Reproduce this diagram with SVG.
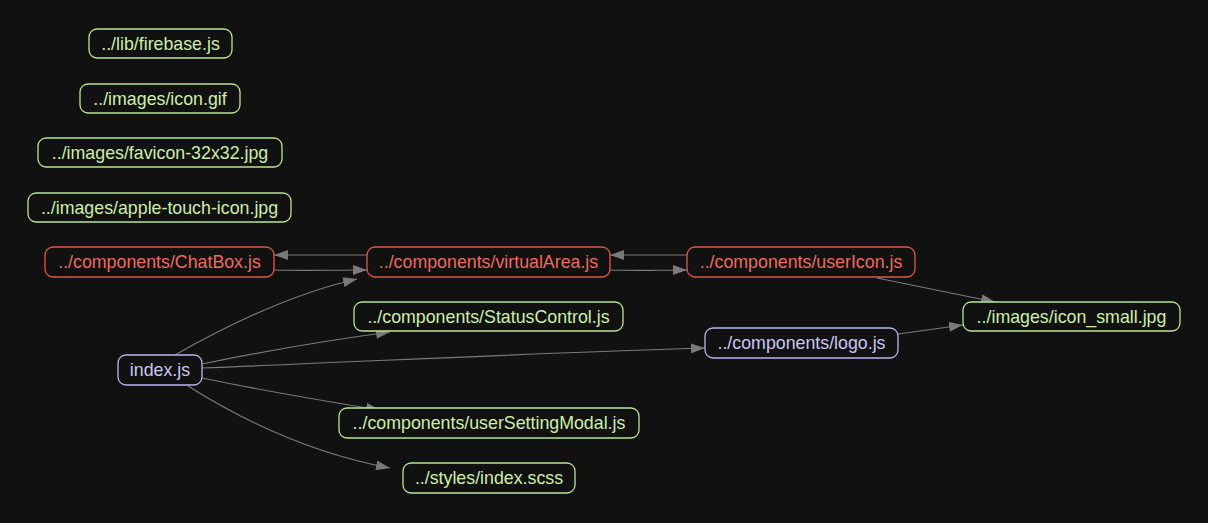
<svg xmlns="http://www.w3.org/2000/svg" width="1208" height="523" viewBox="0 0 1208 523">
<defs>
<marker id="a" markerWidth="14" markerHeight="10" refX="14" refY="5" orient="auto" markerUnits="userSpaceOnUse"><path d="M0,0 L14,5 L0,10 Z" fill="#7a7a7a"/></marker>
<style>
.n rect{fill:#111111;stroke-width:1.3}
.n text{font-family:"Liberation Sans",Arial,sans-serif;font-size:17.8px;text-anchor:middle;dominant-baseline:central}
.g rect{stroke:#b9e592}.g text{fill:#cdeeaa}
.r rect{stroke:#e2574a}.r text{fill:#ef6a5a}
.p rect{stroke:#b8b6ee}.p text{fill:#c8c6f6}
#edges path{fill:none;stroke:#7a7a7a;stroke-width:1.2;marker-end:url(#a)}
</style>
</defs>
<rect width="1208" height="523" fill="#111111"/>
<g id="edges">
<path d="M367,255 L274,255"/>
<path d="M274,270 C310,271 330,270 367,270"/>
<path d="M687,255 L610,255"/>
<path d="M610,270 C640,271 660,270 687,270"/>
<path d="M175,355 C240,318 300,292 357,279"/>
<path d="M202,364 C260,352 330,340 390,332"/>
<path d="M202,368 C400,360 560,352 705,348"/>
<path d="M202,378 C260,390 330,402 380,410"/>
<path d="M188,386 C250,425 320,455 390,468"/>
<path d="M877,278 L995,302"/>
<path d="M898,334 L963,325"/>
</g>
<g id="firebase" class="n g"><rect x="89" y="29" width="143" height="29" rx="8"/><text x="160.5" y="43.5">../lib/firebase.js</text></g>
<g id="icongif" class="n g"><rect x="80" y="84" width="160" height="29" rx="8"/><text x="160" y="98.5">../images/icon.gif</text></g>
<g id="favicon" class="n g"><rect x="38" y="138" width="244" height="29" rx="8"/><text x="160" y="152.5">../images/favicon-32x32.jpg</text></g>
<g id="apple" class="n g"><rect x="28" y="193" width="263" height="29" rx="8"/><text x="159.5" y="207.5">../images/apple-touch-icon.jpg</text></g>
<g id="chatbox" class="n r"><rect x="45" y="247" width="229" height="30" rx="8"/><text x="159.5" y="262">../components/ChatBox.js</text></g>
<g id="virtualArea" class="n r"><rect x="367" y="247" width="243" height="30" rx="8"/><text x="488.5" y="262">../components/virtualArea.js</text></g>
<g id="userIcon" class="n r"><rect x="687" y="247" width="228" height="30" rx="8"/><text x="801" y="262">../components/userIcon.js</text></g>
<g id="statusControl" class="n g"><rect x="354" y="302" width="269" height="29" rx="8"/><text x="488.5" y="316.5">../components/StatusControl.js</text></g>
<g id="index" class="n p"><rect x="118" y="355" width="84" height="30" rx="8"/><text x="160" y="370">index.js</text></g>
<g id="logo" class="n p"><rect x="705" y="328" width="193" height="30" rx="8"/><text x="801.5" y="343">../components/logo.js</text></g>
<g id="iconSmall" class="n g"><rect x="963" y="302" width="217" height="29" rx="8"/><text x="1071.5" y="316.5">../images/icon_small.jpg</text></g>
<g id="userSettingModal" class="n g"><rect x="339" y="408" width="300" height="30" rx="8"/><text x="489" y="423">../components/userSettingModal.js</text></g>
<g id="styles" class="n g"><rect x="403" y="463" width="172" height="30" rx="8"/><text x="489" y="478">../styles/index.scss</text></g>
</svg>
